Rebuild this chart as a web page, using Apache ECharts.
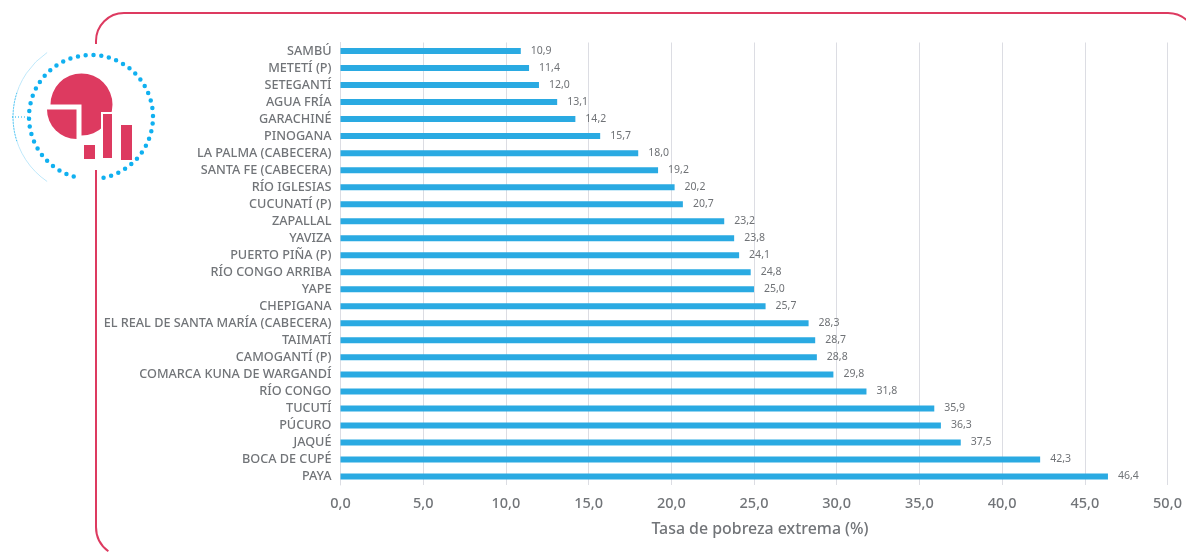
<!DOCTYPE html>
<html><head><meta charset="utf-8">
<style>html,body{margin:0;padding:0;background:#fff}#c{width:1186px;height:555px}</style>
<script src="https://cdn.jsdelivr.net/npm/echarts@6/dist/echarts.min.js"></script>
</head><body><div id="c"></div>
<script>
const categories = ["SAMBÚ","METETÍ (P)","SETEGANTÍ","AGUA FRÍA","GARACHINÉ","PINOGANA","LA PALMA (CABECERA)","SANTA FE (CABECERA)","RÍO IGLESIAS","CUCUNATÍ (P)","ZAPALLAL","YAVIZA","PUERTO PIÑA (P)","RÍO CONGO ARRIBA","YAPE","CHEPIGANA","EL REAL DE SANTA MARÍA (CABECERA)","TAIMATÍ","CAMOGANTÍ (P)","COMARCA KUNA DE WARGANDÍ","RÍO CONGO","TUCUTÍ","PÚCURO","JAQUÉ","BOCA DE CUPÉ","PAYA"];
const values = [10.9,11.4,12.0,13.1,14.2,15.7,18.0,19.2,20.2,20.7,23.2,23.8,24.1,24.8,25.0,25.7,28.3,28.7,28.8,29.8,31.8,35.9,36.3,37.5,42.3,46.4];
const axisTitle = "Tasa de pobreza extrema (%)";
const comma = (v, d) => v.toFixed(d).replace('.', ',');
const pink = '#dd3a60', blue = '#0fb0ee';
const font = '"Noto Sans"';
const chart = echarts.init(document.getElementById('c'), null, {renderer:'canvas'});
chart.setOption({
  animation:false,
  textStyle:{fontFamily:font},
  grid:{left:340.5,right:18.5,top:42.5,bottom:70,containLabel:false},
  xAxis:{type:'value',min:0,max:50,interval:5,
    name:axisTitle,nameLocation:'middle',nameGap:36,
    nameTextStyle:{color:'#717478',fontSize:15.9,fontWeight:500,fontFamily:font,padding:[0,0,0,12]},
    axisLine:{show:false},axisTick:{show:false},
    axisLabel:{color:'#717478',fontSize:14.5,fontWeight:500,margin:11,fontFamily:font,formatter:v=>comma(v,1)},
    splitLine:{show:true,lineStyle:{color:'#dcdde3',width:1}}},
  yAxis:{type:'category',inverse:true,data:categories,
    axisLine:{show:true,lineStyle:{color:'#dcdde3',width:1}},axisTick:{show:false},
    axisLabel:{color:'#717478',fontSize:12.67,fontWeight:500,margin:9,fontFamily:font}},
  series:[{type:'bar',data:values,barWidth:6,itemStyle:{color:'#2aaae2'},
    label:{show:true,position:'right',distance:10,color:'#6f7276',fontSize:10.5,fontFamily:font,formatter:p=>comma(p.value,1)}}],
  graphic:{elements:[
    {type:'line',silent:true,shape:{x1:96,y1:44,x2:96,y2:41},style:{stroke:pink,lineWidth:2}},
    {type:'arc',silent:true,shape:{cx:124,cy:41,r:28,startAngle:Math.PI,endAngle:Math.PI*1.5,clockwise:true},style:{fill:'none',stroke:pink,lineWidth:2}},
    {type:'line',silent:true,shape:{x1:124,y1:13,x2:1168,y2:13},style:{stroke:pink,lineWidth:2}},
    {type:'arc',silent:true,shape:{cx:1168,cy:41,r:28,startAngle:Math.PI*1.5,endAngle:Math.PI*1.75,clockwise:true},style:{fill:'none',stroke:pink,lineWidth:2}},
    {type:'line',silent:true,shape:{x1:96,y1:170,x2:96,y2:527},style:{stroke:pink,lineWidth:2}},
    {type:'arc',silent:true,shape:{cx:126,cy:527,r:30,startAngle:Math.PI,endAngle:Math.PI*0.7,clockwise:false},style:{fill:'none',stroke:pink,lineWidth:2}},
    {type:'arc',silent:true,shape:{cx:91,cy:117,r:62,startAngle:Math.PI*0.59,endAngle:Math.PI*2.44,clockwise:true},style:{fill:'none',stroke:'#10b0f0',lineWidth:4.5,lineDash:[0,7.8],lineCap:'round'}},
    {type:'arc',silent:true,shape:{cx:91,cy:117,r:78,startAngle:Math.PI*0.69,endAngle:Math.PI*1.31,clockwise:true},style:{fill:'none',stroke:'#bfe8fa',lineWidth:1}},
    {type:'arc',silent:true,shape:{cx:91,cy:117,r:78,startAngle:Math.PI*0.9,endAngle:Math.PI*1.1,clockwise:true},style:{fill:'none',stroke:blue,lineWidth:1,lineDash:[1,2]}},
    {type:'line',silent:true,shape:{x1:12,y1:117,x2:28,y2:117},style:{stroke:blue,lineWidth:1,lineDash:[1,2]}},
    {type:'sector',silent:true,shape:{cx:81.5,cy:104.5,r:31,r0:0,startAngle:Math.PI,endAngle:Math.PI*2.5,clockwise:true},style:{fill:pink}},
    {type:'sector',silent:true,shape:{cx:76.5,cy:109.5,r:29.5,r0:0,startAngle:Math.PI*0.5,endAngle:Math.PI,clockwise:true},style:{fill:pink}},
    {type:'rect',silent:true,shape:{x:84,y:145,width:11,height:14},style:{fill:pink}},
    {type:'rect',silent:true,shape:{x:102,y:113,width:11,height:46},style:{fill:pink,stroke:'#fff',lineWidth:2}},
    {type:'rect',silent:true,shape:{x:121,y:125,width:11,height:35},style:{fill:pink}}
  ]}
});
</script></body></html>
